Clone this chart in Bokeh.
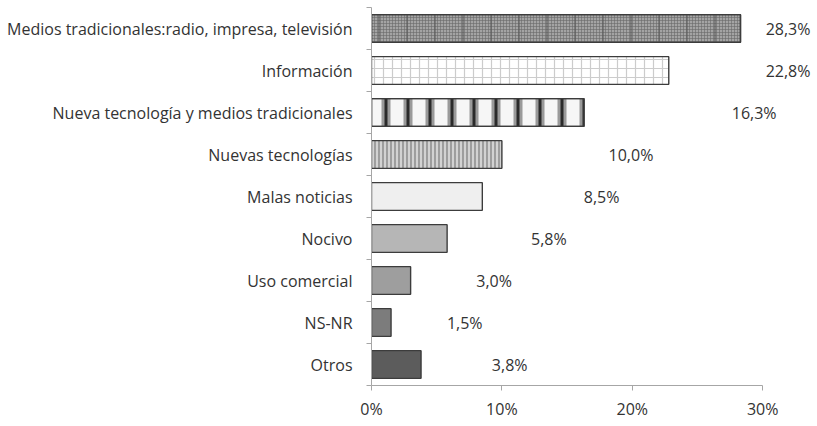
from bokeh.plotting import figure
from bokeh.models import Range1d, FixedTicker, PrintfTickFormatter, ColumnDataSource
from bokeh.core.properties import value
from bokeh.embed import file_html
from bokeh.resources import INLINE

categories = [
    "Medios tradicionales:radio, impresa, televisión",
    "Información",
    "Nueva tecnología y medios tradicionales",
    "Nuevas tecnologías",
    "Malas noticias",
    "Nocivo",
    "Uso comercial",
    "NS-NR",
    "Otros",
]
values = [28.3, 22.8, 16.3, 10.0, 8.5, 5.8, 3.0, 1.5, 3.8]
x_ticks = [0, 10, 20, 30]

fills = ["#a4a4a4", "#ffffff", "#f6f6f6", "#d2d2d2", "#efefef", "#b6b6b6", "#9e9e9e", "#7c7c7c", "#5c5c5c"]
hatches = ["+", "+", "|", "|", " ", " ", " ", " ", " "]
hatch_colors = ["#6a6a6a", "#cccccc", "#9a9a9a", "#7a7a7a", "#000000", "#000000", "#000000", "#000000", "#000000"]
hatch_scales = [3, 9, 22, 4, 12, 12, 12, 12, 12]
hatch_weights = [0.6, 1.2, 9, 1.2, 1, 1, 1, 1, 1]

FONT = "Open Sans"
FS = "16px"
TXT = "#333333"
AX = "#a6a6a6"

n = len(categories)
ypos = [i + 0.5 for i in range(n)]
lab_x = [min(4.9 + 1.5 * v, 31.95) for v in values]
lab_txt = [f"{v:.1f}".replace(".", ",") + "%" for v in values]

src = ColumnDataSource(dict(y=ypos, v=values, fill=fills, hp=hatches, hc=hatch_colors,
                            hs=hatch_scales, hw=hatch_weights, lx=lab_x, lt=lab_txt))

p = figure(width=813, height=422, output_backend="svg", toolbar_location=None,
           x_range=Range1d(0, 33.9), y_range=Range1d(n, 0),
           min_border_left=371, min_border_right=0, min_border_top=7, min_border_bottom=30)
p.outline_line_color = None
p.grid.visible = False
p.background_fill_color = "white"

p.hbar(y="y", right="v", left=0, height=0.66, source=src, fill_color="fill",
       hatch_pattern="hp", hatch_color="hc", hatch_scale="hs", hatch_weight="hw",
       line_color="#3c3c3c", line_width=1.4)
# extra vertical bands on first bar
p.hbar(y=ypos[:1], right=values[:1], left=0, height=0.66, fill_alpha=0,
       hatch_pattern="|", hatch_color="#555555", hatch_scale=28, hatch_weight=1,
       line_color="#3c3c3c", line_width=1.4)
# darker core of the gradient stripes on the third bar
p.hbar(y=ypos[2:3], right=values[2:3], left=0, height=0.66, fill_alpha=0,
       hatch_pattern="|", hatch_color="#2a2a2a", hatch_scale=22, hatch_weight=3,
       line_color="#3c3c3c", line_width=1.4)

p.text(x="lx", y="y", text="lt", source=src, text_align="center", text_baseline="middle",
       text_font=value(FONT), text_font_size=FS, text_color=TXT)

xa = p.xaxis[0]
xa.ticker = FixedTicker(ticks=x_ticks)
xa.formatter = PrintfTickFormatter(format="%d%%")
xa.bounds = (0, 30)
xa.axis_line_color = AX
xa.major_tick_line_color = AX
xa.major_tick_in = 0
xa.major_tick_out = 5
xa.minor_tick_line_color = None
xa.major_label_text_font = FONT
xa.major_label_text_font_size = FS
xa.major_label_text_color = TXT
xa.major_label_standoff = 7

ya = p.yaxis[0]
ya.ticker = FixedTicker(ticks=ypos, minor_ticks=list(range(n + 1)))
ya.major_label_overrides = {y: c for y, c in zip(ypos, categories)}
ya.axis_line_color = AX
ya.major_tick_line_color = None
ya.major_tick_out = 0
ya.major_tick_in = 0
ya.minor_tick_line_color = AX
ya.minor_tick_out = 5
ya.minor_tick_in = 0
ya.major_label_text_font = FONT
ya.major_label_text_font_size = FS
ya.major_label_text_color = TXT
ya.major_label_standoff = 14

open("out.html", "w").write(file_html(p, INLINE))
